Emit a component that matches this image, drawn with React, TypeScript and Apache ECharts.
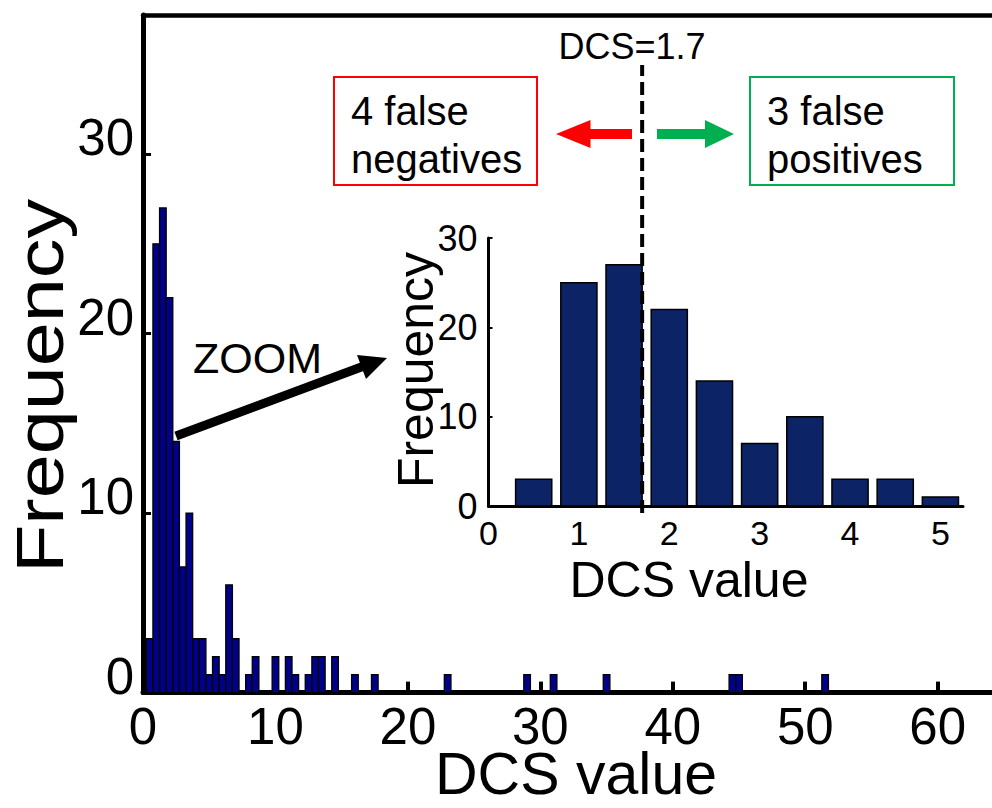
import React, { useEffect, useRef } from "react";
import * as echarts from "echarts";

// DCS value histogram: bin centres (bin width 0.5) and their counts
const binCenters = [
  0.5, 1.0, 1.5, 2.0, 2.5, 3.0, 3.5, 4.0, 4.5, 5.0, 5.5, 6.0, 6.5, 7.0, 8.0, 8.5,
  10.0, 11.0, 11.5, 12.5, 13.0, 13.5, 14.5, 16.0, 17.5, 23.0, 29.0, 31.0, 35.0,
  44.5, 45.0, 51.5,
];
const binCounts = [
  3, 25, 27, 22, 14, 7, 10, 3, 3, 1, 2, 1, 6, 3, 1, 2,
  2, 2, 1, 1, 2, 2, 2, 1, 1, 1, 1, 1, 1,
  1, 1, 1,
];

// Enlarged view of the first bins
const zoomCenters = [0.5, 1.0, 1.5, 2.0, 2.5, 3.0, 3.5, 4.0, 4.5, 5.0];
const zoomCounts = [3, 25, 27, 22, 14, 7, 10, 3, 3, 1];

const mainXTicks = [0, 10, 20, 30, 40, 50, 60];
const mainYTicks = [0, 10, 20, 30];
const zoomXTicks = [0, 1, 2, 3, 4, 5];
const zoomYTicks = [0, 10, 20, 30];

const BIN_WIDTH = 0.5;
const ZOOM_BAR_WIDTH = 0.4;
const dcsThreshold = 1.7;

const FONT = '"Liberation Sans", Arial, Helvetica, sans-serif';

function barRenderer(width: number, fill: string, lineWidth: number) {
  return (_params: any, api: any) => {
    const c = api.value(0);
    const v = api.value(1);
    const p0 = api.coord([c - width / 2, v]);
    const p1 = api.coord([c + width / 2, 0]);
    return {
      type: "rect",
      shape: { x: p0[0], y: p0[1], width: p1[0] - p0[0], height: p1[1] - p0[1] },
      style: { fill, stroke: "#000", lineWidth },
    };
  };
}

export default function App() {
  const ref = useRef<HTMLDivElement>(null);

  useEffect(() => {
    if (!ref.current) return;
    const chart = echarts.init(ref.current, undefined, { renderer: "svg" });

    const mainData = binCenters.map((c, i) => [c, binCounts[i]]);
    const zoomData = zoomCenters.map((c, i) => [c, zoomCounts[i]]);

    const option: any = {
      animation: false,
      backgroundColor: "#fff",
      grid: [
        { left: 143, right: 0, top: 15, bottom: 115.4 },
        { left: 488.5, right: 29, top: 238, bottom: 302 },
        { left: 488.5, right: 29, top: 65, bottom: 295 },
      ],
      xAxis: [
        {
          type: "value",
          gridIndex: 0,
          min: 0,
          max: 64.1,
          splitLine: { show: false },
          axisLine: { lineStyle: { color: "#000", width: 5 } },
          axisTick: {
            inside: true,
            length: 11,
            customValues: mainXTicks,
            lineStyle: { color: "#000", width: 4 },
          },
          axisLabel: {
            customValues: mainXTicks,
            fontSize: 51,
            fontFamily: FONT,
            color: "#000",
            margin: 14,
            lineHeight: 40,
          },
        },
        {
          type: "value",
          gridIndex: 0,
          position: "top",
          min: 0,
          max: 64.1,
          splitLine: { show: false },
          axisLine: { lineStyle: { color: "#000", width: 4.5 } },
          axisTick: { show: false },
          axisLabel: { show: false },
        },
        {
          type: "value",
          gridIndex: 1,
          min: 0,
          max: 5.25,
          splitLine: { show: false },
          axisLine: { lineStyle: { color: "#000", width: 3 } },
          axisTick: { show: false },
          axisLabel: {
            customValues: zoomXTicks,
            fontSize: 34,
            fontFamily: FONT,
            color: "#000",
            margin: 10,
          },
        },
        {
          type: "value",
          gridIndex: 2,
          min: 0,
          max: 5.25,
          show: false,
        },
      ],
      yAxis: [
        {
          type: "value",
          gridIndex: 0,
          min: 0,
          max: 37.75,
          splitLine: { show: false },
          axisLine: { lineStyle: { color: "#000", width: 5 } },
          axisTick: {
            inside: true,
            length: 8,
            customValues: mainYTicks,
            lineStyle: { color: "#000", width: 3 },
          },
          axisLabel: {
            customValues: mainYTicks,
            fontSize: 51,
            fontFamily: FONT,
            color: "#000",
            margin: 9,
            verticalAlign: "bottom",
            lineHeight: 33,
          },
        },
        {
          type: "value",
          gridIndex: 1,
          min: 0,
          max: 30,
          interval: 10,
          splitLine: { show: false },
          axisLine: { lineStyle: { color: "#000", width: 3 } },
          axisTick: {
            inside: true,
            length: 4,
            lineStyle: { color: "#000", width: 2 },
          },
          axisLabel: {
            customValues: zoomYTicks,
            fontSize: 36,
            fontFamily: FONT,
            color: "#000",
            margin: 11,
          },
        },
        {
          type: "value",
          gridIndex: 2,
          min: 0,
          max: 1,
          show: false,
        },
      ],
      series: [
        {
          type: "custom",
          xAxisIndex: 0,
          yAxisIndex: 0,
          renderItem: barRenderer(BIN_WIDTH, "#000088", 1.3),
          encode: { x: 0, y: 1 },
          data: mainData,
          z: 2,
        },
        {
          type: "custom",
          xAxisIndex: 2,
          yAxisIndex: 1,
          renderItem: barRenderer(ZOOM_BAR_WIDTH, "#0c2466", 1.5),
          encode: { x: 0, y: 1 },
          data: zoomData,
          z: 3,
        },
        {
          type: "line",
          xAxisIndex: 3,
          yAxisIndex: 2,
          data: [
            [dcsThreshold, 0],
            [dcsThreshold, 1],
          ],
          symbol: "none",
          lineStyle: { color: "#000", width: 4, type: [13, 6] },
          z: 5,
        },
      ],
      graphic: [
        {
          type: "text",
          x: 40,
          y: 386,
          rotation: Math.PI / 2,
          scaleX: 1.2,
          style: {
            text: "Frequency",
            fontSize: 66,
            fontFamily: FONT,
            fill: "#000",
            align: "center",
            verticalAlign: "middle",
          },
        },
        {
          type: "text",
          x: 576,
          y: 774,
          style: {
            text: "DCS value",
            fontSize: 59,
            lineHeight: 48,
            fontFamily: FONT,
            fill: "#000",
            align: "center",
            verticalAlign: "middle",
          },
        },
        {
          type: "text",
          x: 416,
          y: 370,
          rotation: Math.PI / 2,
          style: {
            text: "Frequency",
            fontSize: 50,
            fontFamily: FONT,
            fill: "#000",
            align: "center",
            verticalAlign: "middle",
          },
        },
        {
          type: "text",
          x: 689,
          y: 580,
          style: {
            text: "DCS value",
            fontSize: 50,
            fontFamily: FONT,
            fill: "#000",
            align: "center",
            verticalAlign: "middle",
          },
        },
        {
          type: "text",
          x: 193,
          y: 358,
          style: {
            text: "ZOOM",
            fontSize: 43,
            fontFamily: FONT,
            fill: "#000",
            align: "left",
            verticalAlign: "middle",
          },
        },
        {
          type: "line",
          shape: { x1: 176, y1: 436, x2: 364, y2: 366 },
          style: { stroke: "#000", lineWidth: 9 },
        },
        {
          type: "polygon",
          shape: {
            points: [
              [387, 358],
              [357, 355],
              [366, 379],
            ],
          },
          style: { fill: "#000" },
        },
        {
          type: "text",
          x: 632,
          y: 46,
          style: {
            text: "DCS=1.7",
            fontSize: 36,
            fontFamily: FONT,
            fill: "#000",
            align: "center",
            verticalAlign: "middle",
          },
        },
        {
          type: "rect",
          shape: { x: 334, y: 77, width: 203, height: 108 },
          style: { fill: "none", stroke: "#ff0000", lineWidth: 2 },
        },
        {
          type: "text",
          x: 351,
          y: 135,
          style: {
            text: "4 false\nnegatives",
            fontSize: 40,
            lineHeight: 48,
            fontFamily: FONT,
            fill: "#000",
            align: "left",
            verticalAlign: "middle",
          },
        },
        {
          type: "rect",
          shape: { x: 750, y: 77, width: 204, height: 108 },
          style: { fill: "none", stroke: "#00b050", lineWidth: 2 },
        },
        {
          type: "text",
          x: 767,
          y: 135,
          style: {
            text: "3 false\npositives",
            fontSize: 40,
            lineHeight: 48,
            fontFamily: FONT,
            fill: "#000",
            align: "left",
            verticalAlign: "middle",
          },
        },
        {
          type: "polygon",
          shape: {
            points: [
              [556, 134],
              [590.5, 120],
              [590.5, 129],
              [632, 129],
              [632, 139],
              [590.5, 139],
              [590.5, 148],
            ],
          },
          style: { fill: "#ff0000" },
        },
        {
          type: "polygon",
          shape: {
            points: [
              [734, 134],
              [705, 120],
              [705, 129],
              [657, 129],
              [657, 139],
              [705, 139],
              [705, 148],
            ],
          },
          style: { fill: "#00b050" },
        },
      ],
    };

    chart.setOption(option);
    return () => chart.dispose();
  }, []);

  return (
    <div
      ref={ref}
      style={{ position: "absolute", left: 0, top: 0, width: 992, height: 808 }}
    />
  );
}
